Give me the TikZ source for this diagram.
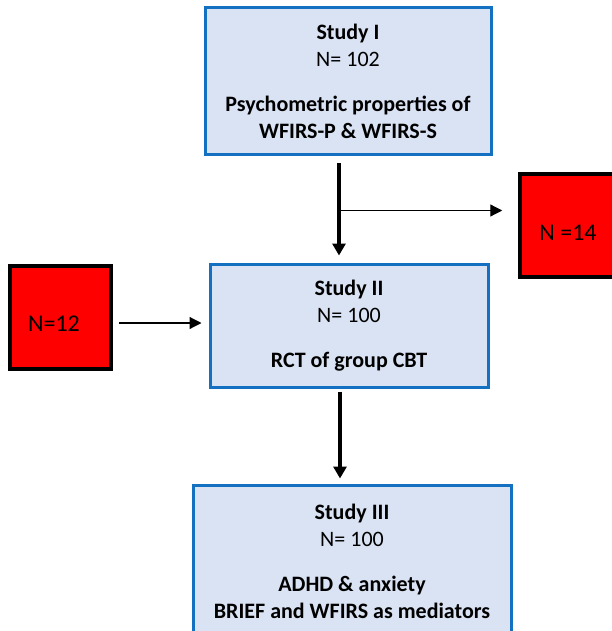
\documentclass[tikz,border=0pt]{standalone}
\usepackage{fontspec}
\setmainfont{Carlito}
\usetikzlibrary{arrows.meta}
\definecolor{boxfill}{RGB}{218,227,243}
\definecolor{boxline}{RGB}{20,112,192}
\definecolor{redfill}{RGB}{255,0,0}
\tikzset{
  studybox/.style={draw=boxline, fill=boxfill, line width=3pt, inner sep=0pt,
    align=center, font=\fontsize{22}{27}\selectfont},
  redbox/.style={draw=black, fill=redfill, line width=3.5pt, inner sep=0pt},
  redtext/.style={font=\fontsize{24}{28}\selectfont, inner sep=0pt},
  thickarrow/.style={line width=3.5pt, -{Triangle[length=12pt,width=13pt]}},
  thinarrow/.style={line width=1.2pt, -{Triangle[length=12pt,width=12pt]}}
}
\begin{document}
\begin{tikzpicture}[x=1pt,y=-1pt]
\useasboundingbox (0,0) rectangle (612,631);
\begin{scope}
\clip (0,0) rectangle (612,631);
\node[studybox, minimum width=286pt, minimum height=147pt] (s1) at (348,81.5)
  {\textbf{Study I}\\N= 102\\[18pt]\textbf{Psychometric properties of}\\\textbf{WFIRS-P \& WFIRS-S}};
\node[studybox, minimum width=278pt, minimum height=123pt] (s2) at (349,325.5)
  {\textbf{Study II}\\N= 100\\[18pt]\textbf{RCT of group CBT}};
\node[studybox, minimum width=318pt, minimum height=152pt] (s3) at (352,561)
  {\textbf{Study III}\\N= 100\\[18pt]\textbf{ADHD \& anxiety}\\\textbf{BRIEF and WFIRS as mediators}};
\node[redbox, minimum width=100pt, minimum height=103pt] (n14) at (570,225.5) {};
\node[redtext] (n14t) at (568,233) {N =14};
\node[redbox, minimum width=101pt, minimum height=103pt] (n12) at (60.5,317.5) {};
\node[redtext] (n12t) at (54,324) {N=12};
\end{scope}
\draw[thickarrow, shorten <=7pt, shorten >=7pt] ([xshift=-9pt]s1.south) -- ([xshift=-10pt]s2.north);
\coordinate (br) at ([xshift=-9pt,yshift=-54pt]s1.south);
\draw[thinarrow, shorten >=16pt] (br) -- (br -| n14.west);
\coordinate (lft) at ([yshift=-5.5pt]n12.east);
\draw[thinarrow, shorten <=6pt, shorten >=7pt] (lft) -- (s2.west |- lft);
\draw[thickarrow, shorten <=3pt, shorten >=5pt] ([xshift=-9pt]s2.south) -- ([xshift=-12pt]s3.north);
\end{tikzpicture}
\end{document}
